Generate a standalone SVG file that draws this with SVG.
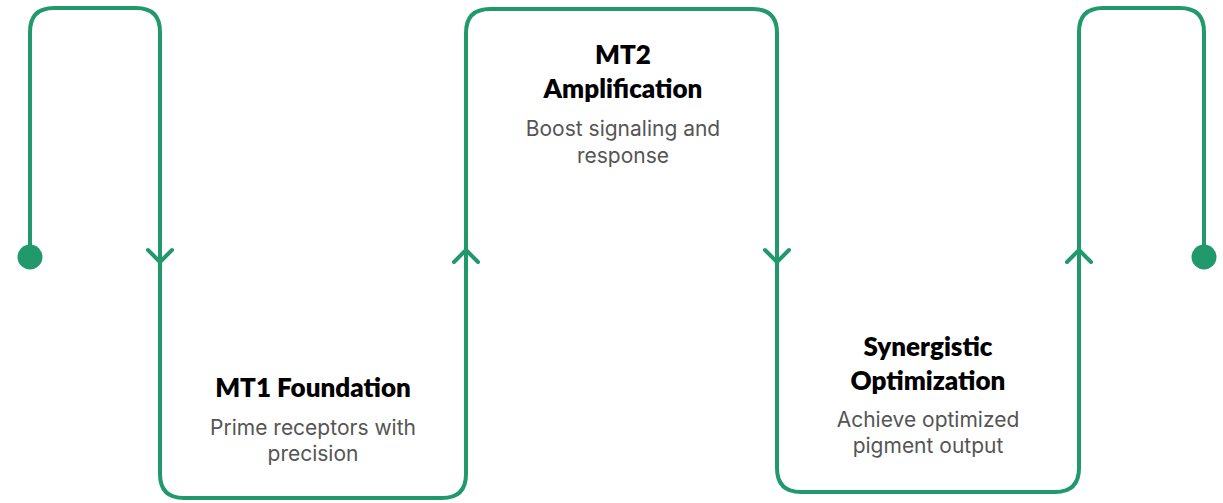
<svg xmlns="http://www.w3.org/2000/svg" width="1223" height="503" viewBox="0 0 1223 503">
<defs>
<style>
.ln{fill:none;stroke:#21996c;stroke-width:4;stroke-linecap:round;stroke-linejoin:round}
.dot{fill:#21996c}
.t{font-family:"Lato","Liberation Sans",sans-serif;font-weight:800;font-size:26px;fill:#000;text-anchor:middle}
.d{font-family:"Inter","Liberation Sans",sans-serif;font-size:21px;fill:#555;text-anchor:middle}
</style>
</defs>
<rect width="1223" height="503" fill="#fff"/>
<g id="connectors">
<path class="ln" d="M30,257 V32 Q30,8 54,8 H136 Q160,8 160,32 V474 Q160,498 184,498 H442 Q466,498 466,474 V33 Q466,9 490,9 H753 Q777,9 777,33 V468 Q777,492 801,492 H1055 Q1079,492 1079,468 V32 Q1079,8 1103,8 H1180 Q1204,8 1204,32 V257"/>
<circle class="dot" cx="30" cy="257" r="12.5"/>
<circle class="dot" cx="1204" cy="257" r="12.5"/>
<path class="ln" d="M148,250 L160,262 L172,250"/>
<path class="ln" d="M454,262 L466,250 L478,262"/>
<path class="ln" d="M765,250 L777,262 L789,250"/>
<path class="ln" d="M1067,262 L1079,250 L1091,262"/>
</g>
<g id="mt1">
<text class="t" x="313" y="397">MT1 Foundation</text>
<text class="d" x="313" y="435">Prime receptors with</text>
<text class="d" x="313" y="461">precision</text>
</g>
<g id="mt2">
<text class="t" x="623" y="64">MT2</text>
<text class="t" x="623" y="98">Amplification</text>
<text class="d" x="623" y="136">Boost signaling and</text>
<text class="d" x="623" y="163">response</text>
</g>
<g id="synergy">
<text class="t" x="928" y="356">Synergistic</text>
<text class="t" x="928" y="390">Optimization</text>
<text class="d" x="928" y="427">Achieve optimized</text>
<text class="d" x="928" y="453">pigment output</text>
</g>
</svg>
